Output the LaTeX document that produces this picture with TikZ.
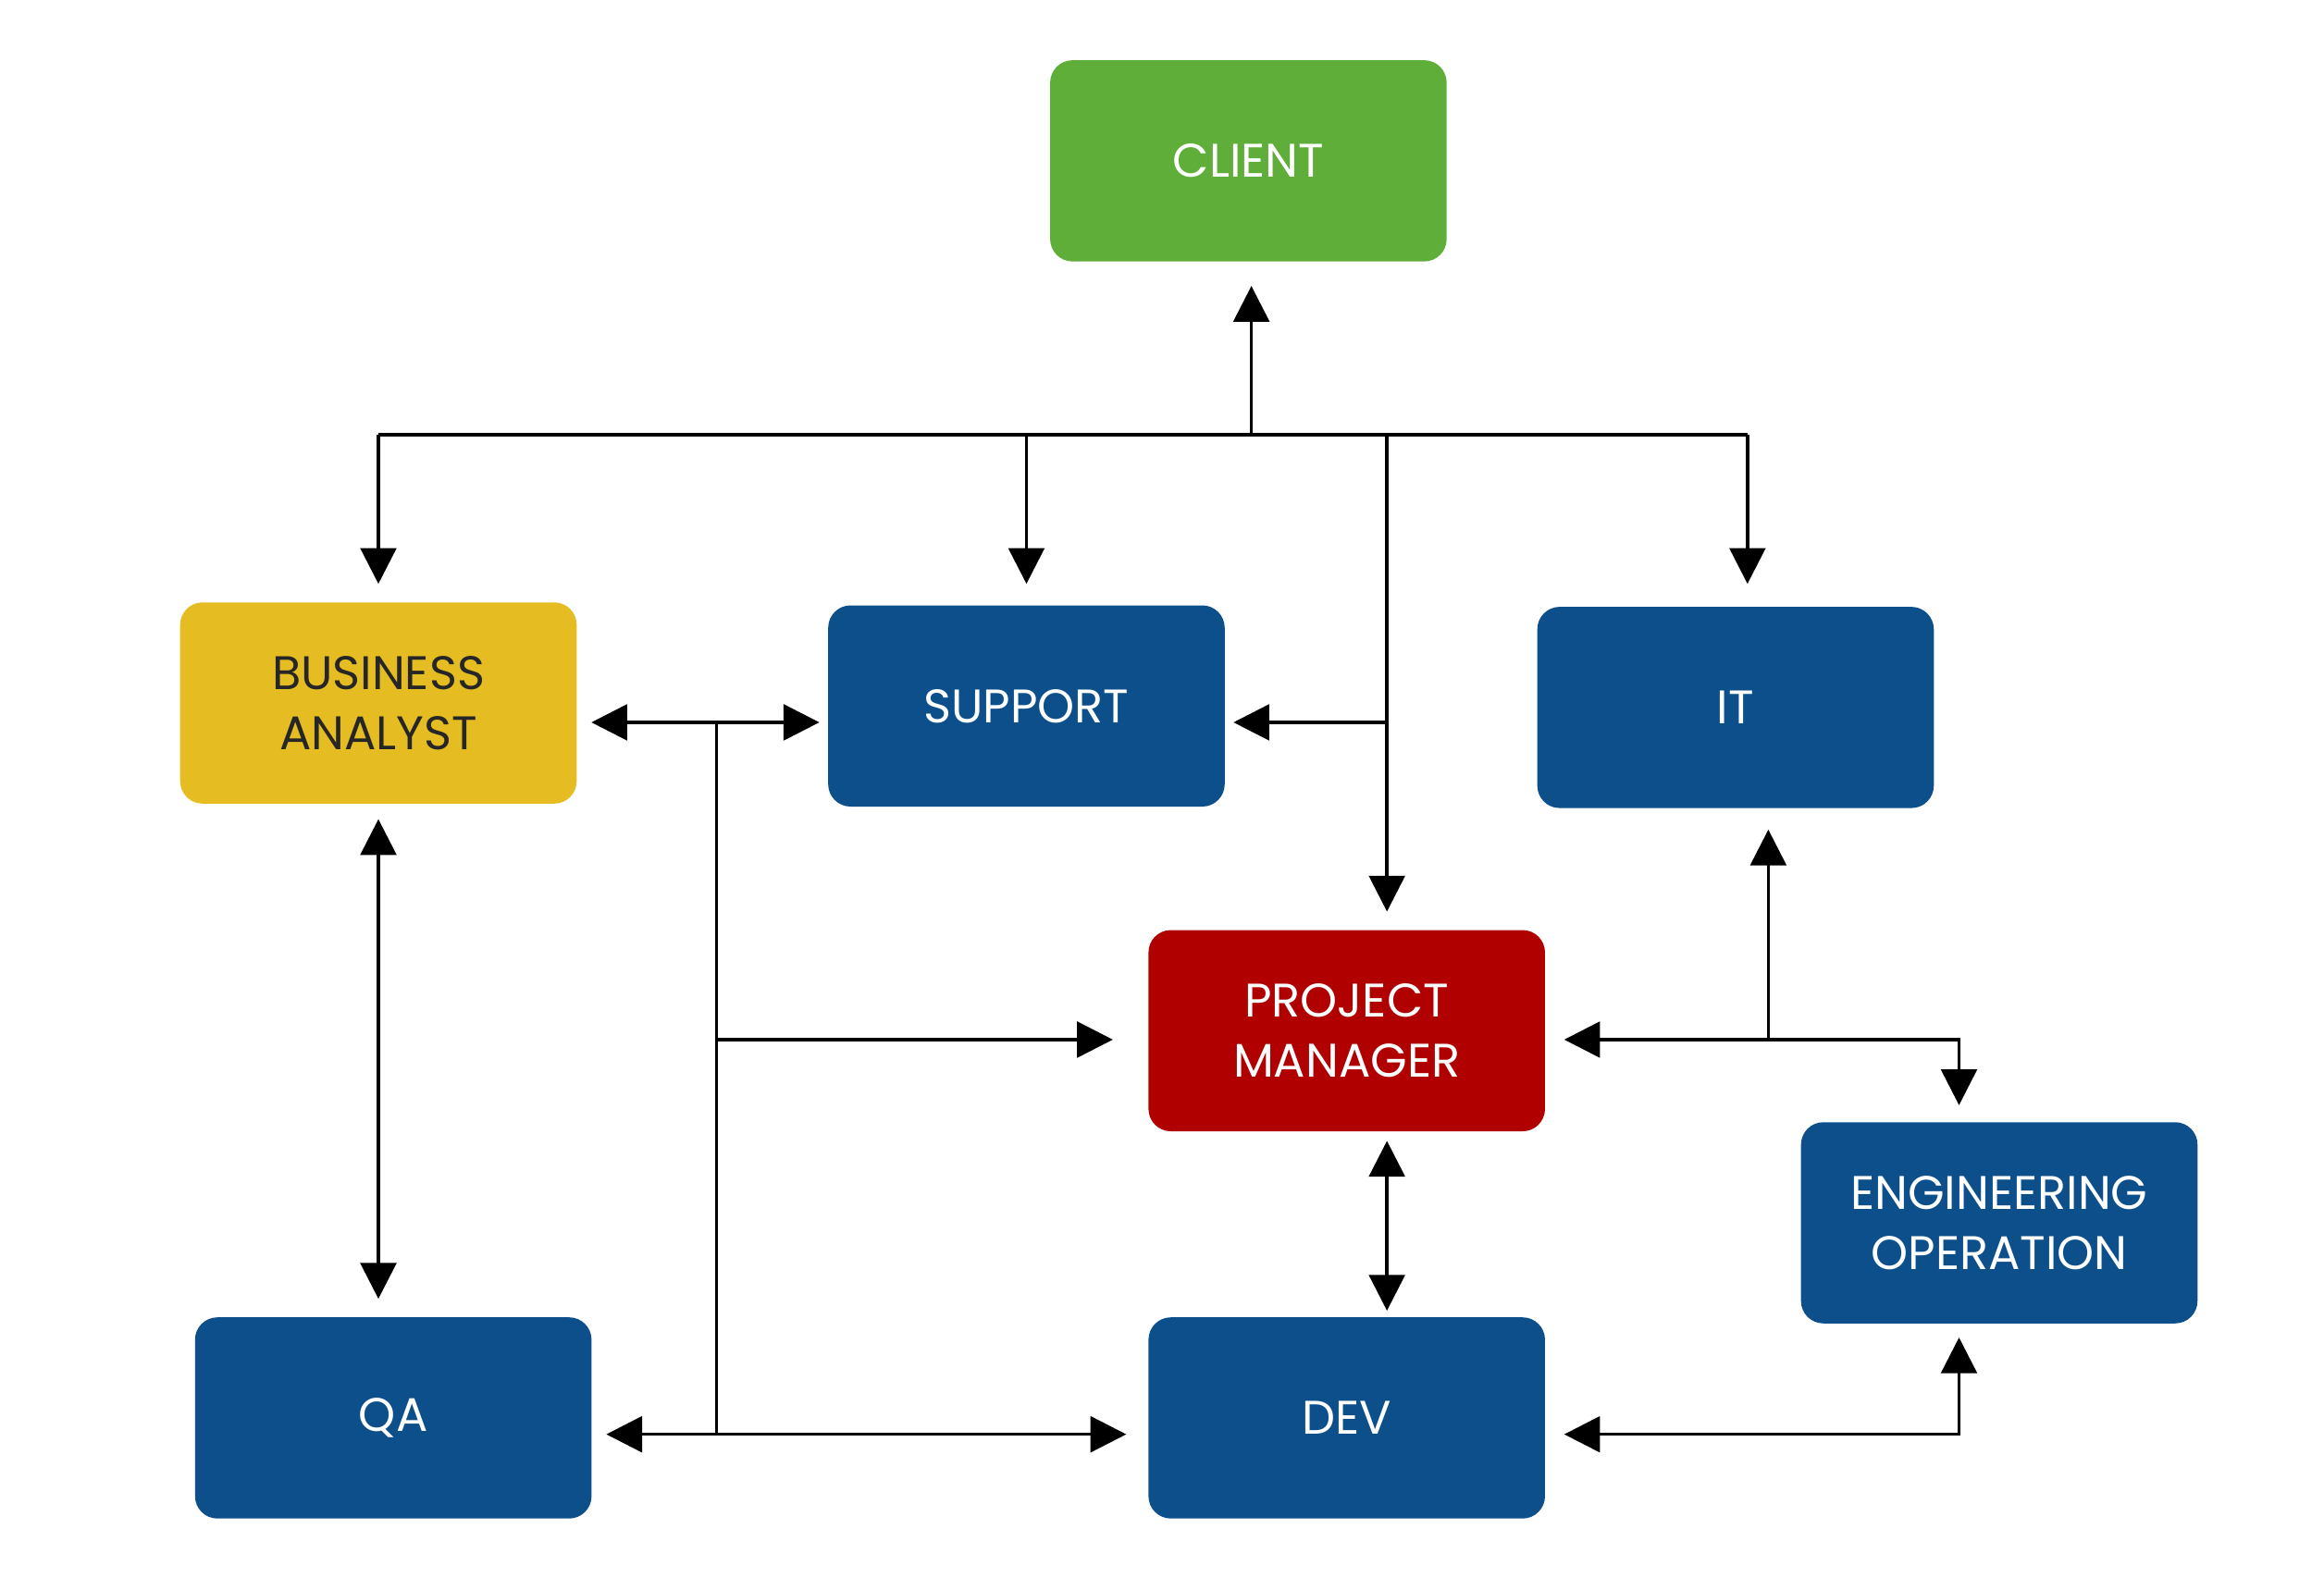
\documentclass[tikz,border=0pt]{standalone}
\usepackage{fontspec}
\setmainfont{Poppins}
\usetikzlibrary{arrows.meta}
\definecolor{box_green}{RGB}{95,174,58}
\definecolor{box_yellow}{RGB}{229,189,34}
\definecolor{box_blue}{RGB}{13,79,139}
\definecolor{box_red}{RGB}{176,0,0}
\begin{document}
\begin{tikzpicture}[semithick,>={Triangle[length=0.24cm,width=0.24cm]},yscale=-1,x=0.01cm,y=0.01cm]
    \tikzstyle{box}=[rectangle, rounded corners=0.15cm, minimum width=2.66cm, minimum height=1.35cm, text=white, align=center, font=\fontsize{9}{11.5}\selectfont]
    \tikzstyle{bl}=[style=box,fill=box_blue]
    \useasboundingbox (0,0) rectangle (1560,1067);

    \node[box,fill=box_green] (client) at (838,108) {CLIENT};
    \node[box,fill=box_yellow,text=black!85] (ba) at (254,472) {BUSINESS\\ANALYST};
    \node[bl] (support) at (689,474) {SUPPORT};
    \node[bl] (it) at (1165,475) {IT};
    \node[box,fill=box_red] (pm) at (904,692) {PROJECT\\MANAGER};
    \node[bl] (eo) at (1342,821) {ENGINEERING\\OPERATION};
    \node[bl] (qa) at (264,952) {QA};
    \node[bl] (dev) at (904,952) {DEV};

    % client bus
    \coordinate (c0) at (840,292);
    \coordinate (cba) at (254,292);
    \coordinate (csu) at (689,292);
    \coordinate (cpm) at (931,292);
    \coordinate (cit) at (1173,292);
    \draw[->] (c0) -- (840,192);
    \draw (cba) -- (cit);
    \draw[->] (cba) -- (254,392);
    \draw[->] (csu) -- (689,392);
    \draw[->] (cit) -- (1173,392);
    \draw[->] (cpm) -- (931,612);
    \coordinate (spm) at (931,485);
    \draw[->] (spm) -- (828,485);

    % left trunk
    \coordinate (t1) at (481,485);
    \coordinate (t2) at (481,698);
    \coordinate (t3) at (481,963);
    \draw[<->] (397,485) -- (550,485);
    \draw (t1) -- (t3);
    \draw[->] (t2) -- (747,698);
    \draw[<->] (407,963) -- (756,963);
    \draw[<->] (254,550) -- (254,872);
    \draw[<->] (931,766) -- (931,880);

    % right side
    \coordinate (r1) at (1187,698);
    \draw[<->] (1050,698) -- (1315,698) -- (1315,742);
    \draw[->] (r1) -- (1187,557);
    \draw[<->] (1050,963) -- (1315,963) -- (1315,898);
\end{tikzpicture}
\end{document}
